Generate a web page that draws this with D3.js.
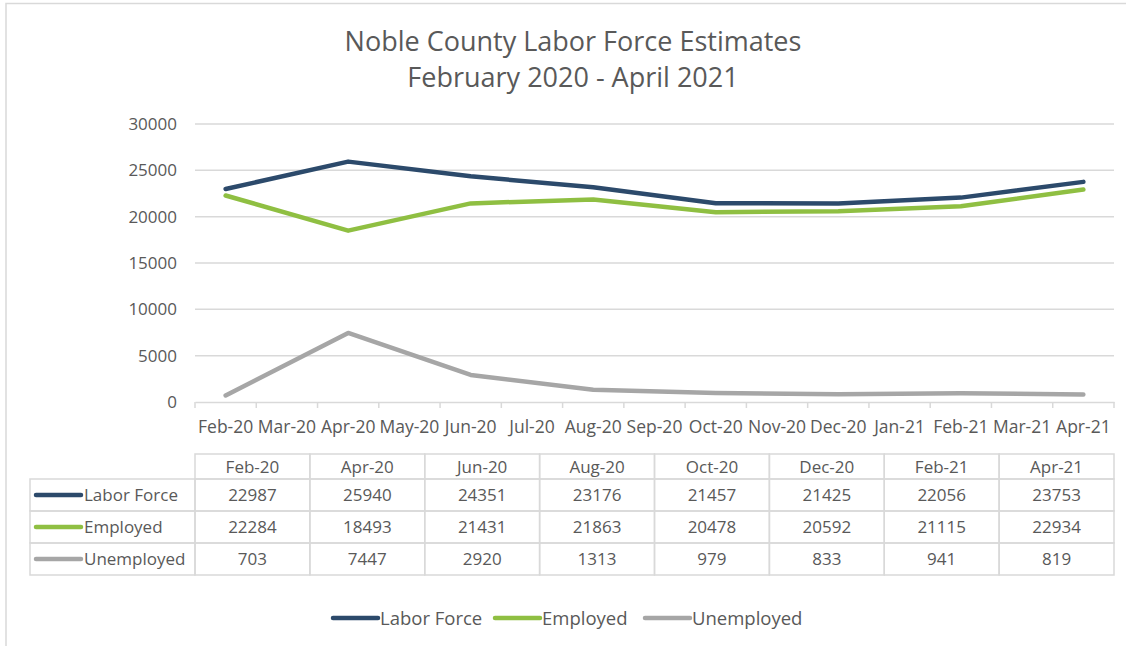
<!DOCTYPE html>
<html>
<head>
<meta charset="utf-8">
<script src="https://cdn.jsdelivr.net/npm/d3@7"></script>
<style>
  body { margin: 0; background: #fff; }
  text { font-family: "Open Sans", sans-serif; fill: #595959; }
</style>
</head>
<body>
<div class="chart"></div>
<script>
// monthly categories on the x axis
const months = ['Feb-20', 'Mar-20', 'Apr-20', 'May-20', 'Jun-20', 'Jul-20', 'Aug-20', 'Sep-20',
  'Oct-20', 'Nov-20', 'Dec-20', 'Jan-21', 'Feb-21', 'Mar-21', 'Apr-21'];
// months that actually have estimates
const dataMonths = ['Feb-20', 'Apr-20', 'Jun-20', 'Aug-20', 'Oct-20', 'Dec-20', 'Feb-21', 'Apr-21'];
const laborForce = [22987, 25940, 24351, 23176, 21457, 21425, 22056, 23753];
const employed = [22284, 18493, 21431, 21863, 20478, 20592, 21115, 22934];
const unemployed = [703, 7447, 2920, 1313, 979, 833, 941, 819];
const yTicks = [0, 5000, 10000, 15000, 20000, 25000, 30000];

const series = [
  { name: 'Labor Force', values: laborForce, color: '#2c4a6b' },
  { name: 'Employed', values: employed, color: '#8fbf42' },
  { name: 'Unemployed', values: unemployed, color: '#a6a6a6' }
];

const width = 1126;
const height = 646;
const gridColor = '#d9d9d9';

const svg = d3.select('.chart')
  .append('svg')
  .attr('width', width)
  .attr('height', height);

// outer chart frame
svg.append('path')
  .attr('d', `M6,${height} V3.5 H${width}`)
  .attr('fill', 'none')
  .attr('stroke', gridColor)
  .attr('stroke-width', 1.5);

// title
const title = svg.append('text')
  .attr('text-anchor', 'middle')
  .style('font-size', '27px');
title.append('tspan').attr('x', 573).attr('y', 51).text('Noble County Labor Force Estimates');
title.append('tspan').attr('x', 573).attr('y', 87).text('February 2020 - April 2021');

const x = d3.scaleBand().domain(months).range([195, 1114]);
const y = d3.scaleLinear().domain([0, 30000]).range([402, 124]);

// gridlines
svg.append('g')
  .selectAll('line')
  .data(yTicks.filter(d => d > 0))
  .enter()
    .append('line')
    .attr('x1', 195)
    .attr('x2', 1114)
    .attr('y1', d => y(d))
    .attr('y2', d => y(d))
    .attr('stroke', gridColor)
    .attr('stroke-width', 1.5);

// y labels
svg.append('g')
  .selectAll('text')
  .data(yTicks)
  .enter()
    .append('text')
    .attr('x', 177)
    .attr('y', d => y(d))
    .attr('dy', '0.36em')
    .attr('text-anchor', 'end')
    .style('font-size', '17px')
    .text(d => d);

// x axis
const xAxis = svg.append('g')
  .attr('transform', 'translate(0,402)')
  .call(d3.axisBottom(x).tickSize(0).tickPadding(0));
xAxis.select('.domain').attr('stroke', gridColor).attr('stroke-width', 1.5);
xAxis.selectAll('.tick text')
  .attr('y', 31)
  .attr('dy', 0)
  .style('font-family', '"Open Sans", sans-serif')
  .style('font-size', '17.5px')
  .attr('fill', '#595959');
// category boundary ticks
svg.append('g')
  .selectAll('line')
  .data(months.concat(['end']))
  .enter()
    .append('line')
    .attr('x1', (d, i) => 195 + i * x.bandwidth())
    .attr('x2', (d, i) => 195 + i * x.bandwidth())
    .attr('y1', 402)
    .attr('y2', 408)
    .attr('stroke', gridColor)
    .attr('stroke-width', 1.5);

// lines
const line = d3.line()
  .x((d, i) => x(dataMonths[i]) + x.bandwidth() / 2)
  .y(d => y(d));

svg.append('g')
  .selectAll('path')
  .data(series)
  .enter()
    .append('path')
    .attr('d', d => line(d.values))
    .attr('fill', 'none')
    .attr('stroke', d => d.color)
    .attr('stroke-width', 4.5)
    .attr('stroke-linejoin', 'round')
    .attr('stroke-linecap', 'round');

// data table
const col = d3.scaleBand().domain(dataMonths).range([195, 1114]);
const headerTop = 454;
const rowTops = [479, 511, 543];
const rowH = 32;
const table = svg.append('g');

// header cells
table.selectAll('.hcell')
  .data(dataMonths)
  .enter()
    .append('rect')
    .attr('x', d => col(d))
    .attr('y', headerTop)
    .attr('width', col.bandwidth())
    .attr('height', rowTops[0] - headerTop)
    .attr('fill', 'none')
    .attr('stroke', gridColor)
    .attr('stroke-width', 1.5);

table.selectAll('.htext')
  .data(dataMonths)
  .enter()
    .append('text')
    .attr('x', d => col(d) + col.bandwidth() / 2)
    .attr('y', (headerTop + rowTops[0]) / 2)
    .attr('dy', '0.36em')
    .attr('text-anchor', 'middle')
    .style('font-size', '17px')
    .text(d => d);

series.forEach((s, r) => {
  const top = rowTops[r];
  const g = table.append('g');
  // label cell
  g.append('rect')
    .attr('x', 30)
    .attr('y', top)
    .attr('width', 195 - 30)
    .attr('height', rowH)
    .attr('fill', 'none')
    .attr('stroke', gridColor)
    .attr('stroke-width', 1.5);
  g.append('line')
    .attr('x1', 36)
    .attr('x2', 81)
    .attr('y1', top + rowH / 2)
    .attr('y2', top + rowH / 2)
    .attr('stroke', s.color)
    .attr('stroke-width', 4.5)
    .attr('stroke-linecap', 'round');
  g.append('text')
    .attr('x', 84)
    .attr('y', top + rowH / 2)
    .attr('dy', '0.36em')
    .style('font-size', '17px')
    .text(s.name);

  g.selectAll('rect.cell')
    .data(s.values)
    .enter()
      .append('rect')
      .attr('class', 'cell')
      .attr('x', (d, i) => col(dataMonths[i]))
      .attr('y', top)
      .attr('width', col.bandwidth())
      .attr('height', rowH)
      .attr('fill', 'none')
      .attr('stroke', gridColor)
      .attr('stroke-width', 1.5);
  g.selectAll('text.val')
    .data(s.values)
    .enter()
      .append('text')
      .attr('class', 'val')
      .attr('x', (d, i) => col(dataMonths[i]) + col.bandwidth() / 2)
      .attr('y', top + rowH / 2)
      .attr('dy', '0.36em')
      .attr('text-anchor', 'middle')
      .style('font-size', '17px')
      .text(d => d);
});

// legend
const legendX = [333, 495, 645];
const legend = svg.append('g')
  .selectAll('g')
  .data(series)
  .enter()
    .append('g')
    .attr('transform', (d, i) => `translate(${legendX[i]},618)`);
legend.append('line')
  .attr('x1', 0)
  .attr('x2', 45)
  .attr('stroke', d => d.color)
  .attr('stroke-width', 4.5)
  .attr('stroke-linecap', 'round');
legend.append('text')
  .attr('x', 47)
  .attr('dy', '0.36em')
  .style('font-size', '18.5px')
  .text(d => d.name);
</script>
</body>
</html>
